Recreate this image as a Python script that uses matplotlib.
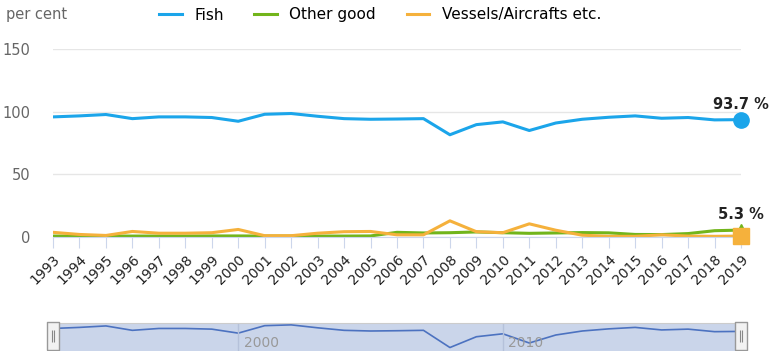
import numpy as np
import matplotlib.pyplot as plt

years = list(range(1993, 2020))
fish = [95.9, 96.7, 97.8, 94.5, 95.9, 95.9, 95.4, 92.4, 98.0, 98.6, 96.4, 94.5, 94.0, 94.2,
        94.5, 81.6, 89.7, 91.9, 85.0, 91.0, 94.0, 95.6, 96.7, 94.8, 95.4, 93.5, 93.7]
other_good = [0.5, 0.5, 0.5, 0.5, 0.5, 0.5, 0.6, 0.6, 0.5, 0.5, 0.5, 0.5, 0.6, 3.5,
              3.0, 3.2, 3.8, 3.2, 2.7, 3.0, 3.3, 3.1, 1.8, 1.7, 2.5, 4.8, 5.3]
vessels = [3.5, 1.8, 1.0, 4.2, 2.8, 2.8, 3.2, 5.8, 0.8, 0.8, 2.8, 4.0, 4.2, 1.5,
           1.5, 12.7, 4.0, 3.2, 10.3, 5.2, 1.2, 0.3, 0.3, 1.5, 0.5, 0.3, 0.5]

c_fish = '#1ba5ea'
c_other = '#72b51b'
c_vessels = '#f5b13c'

W, H = 773, 351
fig = plt.figure(figsize=(W / 100, H / 100), dpi=100)

x0, x1 = 53, 741
ax = fig.add_axes([x0 / W, 1 - 236.7 / H, (x1 - x0) / W, (236.7 - 49.3) / H])
ax.plot(years, fish, color=c_fish, lw=2.2, label='Fish')
ax.plot(years, other_good, color=c_other, lw=2.2, label='Other good')
ax.plot(years, vessels, color=c_vessels, lw=2.2, label='Vessels/Aircrafts etc.')

# end-of-series markers
ax.plot(years[-1], fish[-1], 'o', color=c_fish, ms=11, clip_on=False, zorder=5)
ax.plot(years[-1], other_good[-1], '^', color=c_other, ms=9, clip_on=False, zorder=5)
ax.plot(years[-1], vessels[-1], 's', color=c_vessels, ms=11, clip_on=False, zorder=6)
ax.annotate(f'{fish[-1]} %', (years[-1], fish[-1]), xytext=(0, 8), textcoords='offset points',
            ha='center', va='baseline', fontsize=10.5, fontweight='bold', color='#222222')
ax.annotate(f'{other_good[-1]} %', (years[-1], other_good[-1]), xytext=(0, 8), textcoords='offset points',
            ha='center', va='baseline', fontsize=10.5, fontweight='bold', color='#222222')

ax.set_xlim(1993, 2019)
ax.set_ylim(0, 150)
ax.set_yticks([0, 50, 100, 150])
ax.set_xticks(years)
ax.set_xticklabels([str(y) for y in years], rotation=45, ha='right', rotation_mode='anchor',
                   fontsize=10, color='#222222')
ax.tick_params(axis='x', length=8, color='#ccd6eb', pad=3)
ax.tick_params(axis='y', length=0, pad=16, labelsize=10.5, labelcolor='#666666')
ax.grid(axis='y', color='#e6e6e6', lw=1)
ax.set_axisbelow(True)
for s in ['top', 'right', 'left']:
    ax.spines[s].set_visible(False)
ax.spines['bottom'].set_color('#ccd6eb')

fig.text(6 / W, 1 - 15 / H, 'per cent', fontsize=10.5, color='#666666', va='center')
fig.legend(loc='center', bbox_to_anchor=(380 / W, 1 - 15 / H), ncol=3, frameon=False,
           fontsize=11, handlelength=1.5, columnspacing=2.0, handletextpad=0.8)

# navigator strip
nav = fig.add_axes([x0 / W, 0, (x1 - x0) / W, 28 / H])
nav.set_facecolor('#cad5ea')
nav.plot(years, fish, color='#4c72c0', lw=1.2)
nav.set_xlim(1993, 2019)
nav.set_ylim(79, 100)
for yr in (2000, 2010):
    nav.axvline(yr, color='#b5c1da', lw=1)
    nav.text(yr + 0.2, 79.5, str(yr), fontsize=10, color='#999999', va='bottom')
nav.set_xticks([])
nav.set_yticks([])
for s in nav.spines.values():
    s.set_visible(False)
nav.spines['top'].set_visible(True)
nav.spines['top'].set_color('#cccccc')
handle = [(-0.4, -1), (0.4, -1), (0.4, 1), (-0.4, 1), (-0.4, -1)]
for yr in (1993, 2019):
    nav.plot(yr, 90, marker=handle, ms=20, mfc='#f2f2f2', mec='#999999', mew=1,
             clip_on=False, zorder=5)
    nav.plot([yr - 0.05, yr + 0.05], [90, 90], ls='none', marker='|', ms=8, color='#888888',
             mew=0.8, clip_on=False, zorder=6)

fig.savefig('out.png', dpi=100)
